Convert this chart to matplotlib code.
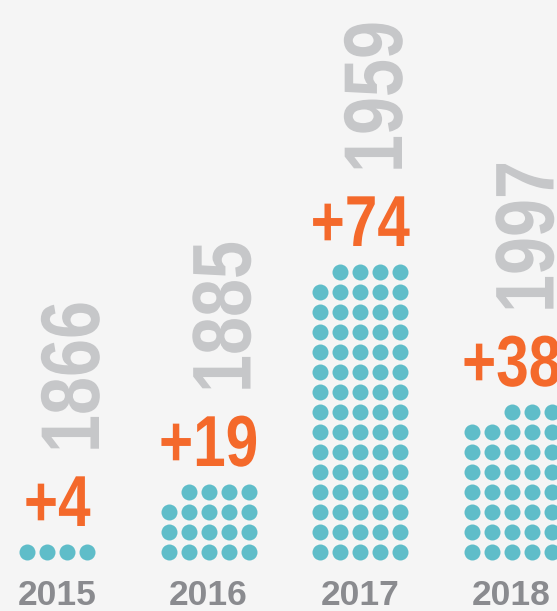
import matplotlib
matplotlib.use('Agg')
import matplotlib.pyplot as plt
from matplotlib import patheffects
from matplotlib.transforms import Affine2D

# data
years = ['2015', '2016', '2017', '2018']
added = [4, 19, 74, 38]
totals = [1866, 1885, 1959, 1997]

bg = '#f5f5f5'
dot_color = '#5fbdc9'
orange = '#f4692b'
light_gray = '#c6c7c9'
year_gray = '#8a8b8f'


class Squeeze(patheffects.AbstractPathEffect):
    # narrows the glyphs along the text direction (no condensed font installed)
    def __init__(self, sx, pivot='center'):
        super().__init__()
        self.sx = sx
        self.pivot = pivot

    def draw_path(self, renderer, gc, tpath, affine, rgbFace=None):
        ext = tpath.get_extents()
        px = (ext.x0 + ext.x1) / 2 if self.pivot == 'center' else 0
        t = Affine2D().translate(-px, 0).scale(self.sx, 1).translate(px, 0) + affine
        renderer.draw_path(gc, tpath, t, rgbFace)


fig = plt.figure(figsize=(5.57, 6.11), dpi=100, facecolor=bg)
ax = fig.add_axes([0, 0, 1, 1])
ax.set_facecolor(bg)
ax.set_xlim(0, 557)
ax.set_ylim(611, 0)   # pixel-like coordinates, y going down
ax.axis('off')

x0, step = 57, 151.5      # column centres
ncols, gap = 5, 20        # dots per row, dot pitch
bottom_row = 552

for i, (yr, n, tot) in enumerate(zip(years, added, totals)):
    cx = x0 + i * step
    full, rest = divmod(n, ncols)
    xs, ys = [], []
    # full rows from the bottom up
    for r in range(full):
        for c in range(ncols):
            xs.append(cx + (c - (ncols - 1) / 2) * gap)
            ys.append(bottom_row - r * gap)
    # partial row on top: right-aligned, centred if it is the only row
    if rest:
        for c in range(rest):
            if full:
                xs.append(cx + (ncols - rest + c - (ncols - 1) / 2) * gap)
            else:
                xs.append(cx + (c - (rest - 1) / 2) * gap)
            ys.append(bottom_row - full * gap)
    ax.scatter(xs, ys, s=(16 * 0.72) ** 2, color=dot_color, linewidths=0)

    base = min(ys) - 26
    ax.text(cx, base, '+%d' % n, ha='center', va='baseline', color=orange,
            fontsize=52, fontweight='bold', family='Liberation Sans',
            path_effects=[Squeeze(0.81)])

    ax.text(cx + 42, base - 73, str(tot), rotation=90, rotation_mode='anchor',
            ha='left', va='baseline', color=light_gray,
            fontsize=60, fontweight='bold', family='Liberation Sans',
            path_effects=[Squeeze(0.82, pivot='start')])

    ax.text(cx, 605, yr, ha='center', va='baseline', color=year_gray,
            fontsize=25.5, fontweight='bold', family='Liberation Sans')

fig.savefig('out.png', dpi=100, facecolor=bg)
